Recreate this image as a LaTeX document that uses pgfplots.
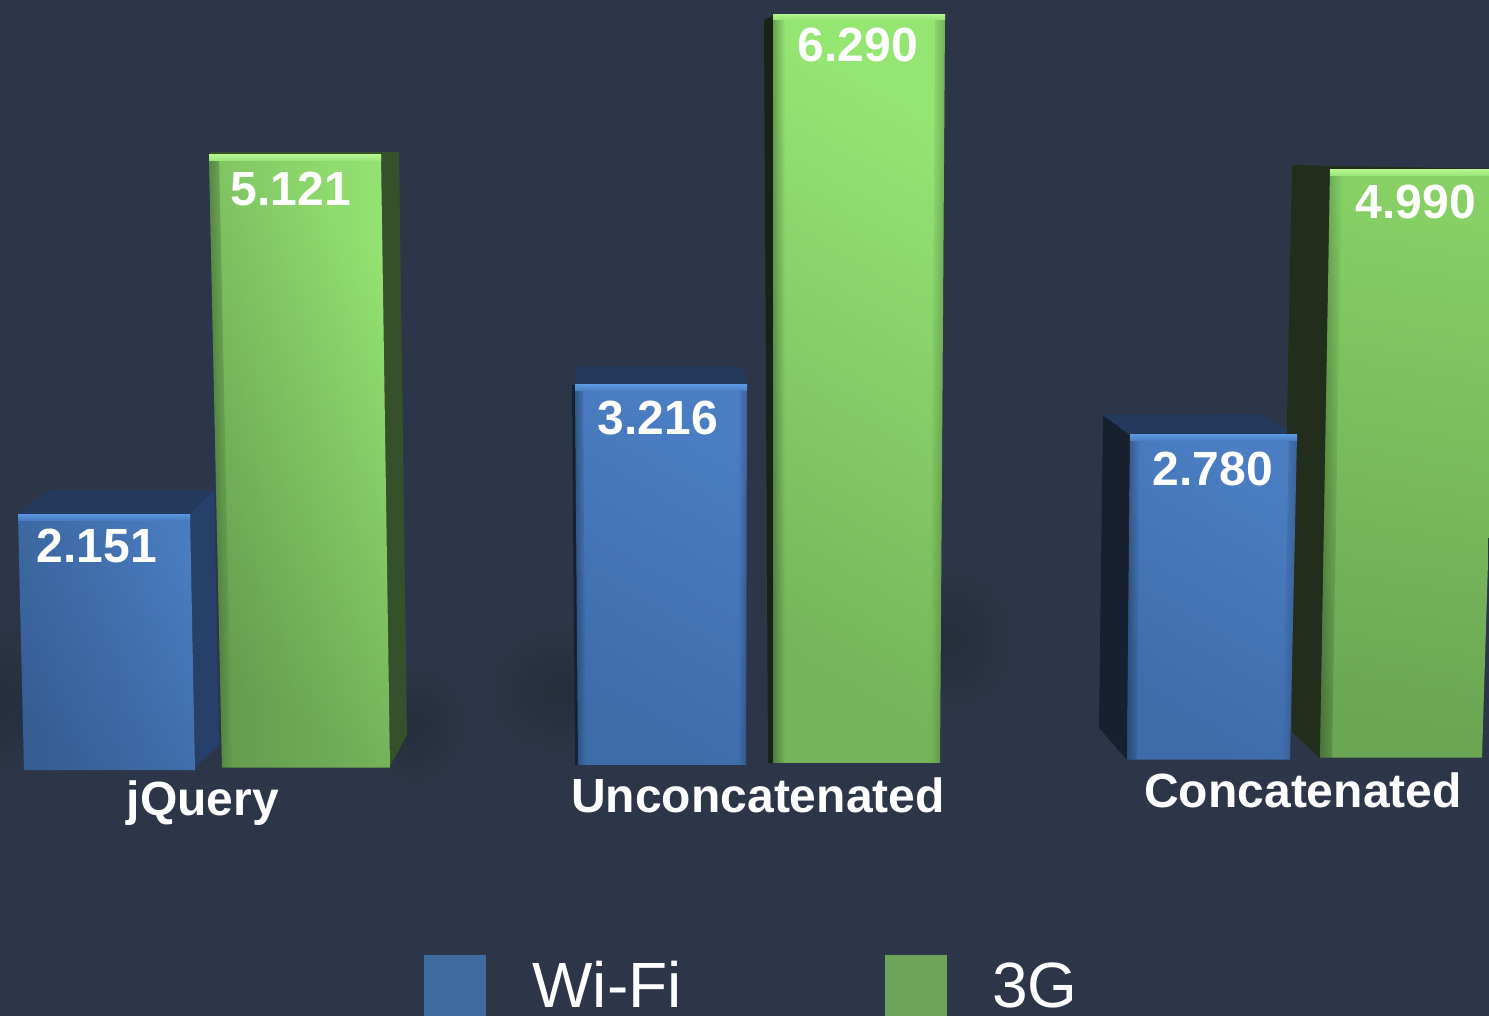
\documentclass[border=0pt]{standalone}
\usepackage{fontspec}
\setmainfont{Liberation Sans}
\usepackage{pgfplots}
\usetikzlibrary{fadings}
\pgfplotsset{compat=1.18}
\definecolor{bg}{HTML}{2D3648}
\definecolor{shadowc}{HTML}{262D3B}
\definecolor{topb}{HTML}{233A5C}
\definecolor{sideb}{HTML}{27406A}
\definecolor{leftb}{HTML}{16202E}
\definecolor{sideg}{HTML}{35512A}
\definecolor{leftg}{HTML}{222E1B}
\definecolor{legb}{HTML}{3E6C9F}
\definecolor{legg}{HTML}{6EA45A}
\definecolor{blueT}{HTML}{4A7DC2}
\definecolor{blueB}{HTML}{3E6CA9}
\definecolor{blueH}{HTML}{5A97DE}
\definecolor{greenT}{HTML}{95E573}
\definecolor{greenM}{HTML}{86D065}
\definecolor{greenB}{HTML}{74B45B}
\definecolor{greenH}{HTML}{B4F48E}
\pgfplotsset{
  base/.style={scale only axis,width=744.5pt,height=508pt,axis line style={draw=none},
    tick style={draw=none},ytick=\empty,xmin=0,xmax=1489},
  blue front/.style={draw=none,top color=blueT,bottom color=blueB,shading angle=-30},
  green front/.style={draw=none,top color=greenT,bottom color=greenB,shading angle=-30},
  green front low/.style={draw=none,top color=greenM,bottom color=greenB!92!black,shading angle=-10},
  blue hi/.style={draw=none,top color=blueH,bottom color=blueT},
  green hi/.style={draw=none,top color=greenH,bottom color=greenT},
  dim left/.style={draw=none,fill=black,fill opacity=.14,path fading=east},
  edge l/.style={draw=none,fill=black,fill opacity=.30,path fading=east},
  edge r/.style={draw=none,fill=black,fill opacity=.22,path fading=west},
  val/.style={draw=none,mark=none,nodes near coords,point meta=explicit symbolic,
    nodes near coords style={anchor=center,text=white,font=\fontsize{24}{24}\selectfont\bfseries,yshift=#1}},
  glow/.style={draw=none,inner color=shadowc,outer color=bg},
}
\begin{document}
\begin{tikzpicture}
% Background, ground shadows, side and top faces, legend swatches (pixel axis)
\begin{axis}[base,xtick=\empty,ymin=0,ymax=1016,y dir=reverse,axis background/.style={fill=bg}]
\addplot[glow] coordinates {(-70,620)(70,620)(70,780)(-70,780)} -- cycle;
\addplot[glow] coordinates {(480,620)(640,620)(640,760)(480,760)} -- cycle;
\addplot[glow] coordinates {(880,560)(1020,560)(1020,720)(880,720)} -- cycle;
\addplot[glow] coordinates {(360,660)(470,660)(470,790)(360,790)} -- cycle;
% jQuery Wi-Fi
\addplot[draw=none,fill=topb] coordinates {(18,514)(50,490)(214,490)(190,514)} -- cycle;
\addplot[draw=none,fill=sideb] coordinates {(190,514)(214,490)(219,745)(195,767)} -- cycle;
% jQuery 3G
\addplot[draw=none,fill=sideg] coordinates {(209,155)(211,152)(399,152)(407,735)(390,766)(380,155)} -- cycle;
% Unconcatenated Wi-Fi
\addplot[draw=none,fill=topb] coordinates {(574,385)(578,367)(743,367)(748,385)} -- cycle;
\addplot[draw=none,fill=leftb] coordinates {(572,385)(578,385)(580,765)(575,765)} -- cycle;
% Unconcatenated 3G
\addplot[draw=none,fill=leftg!75!black] coordinates {(764,20)(775,15)(775,763)(768,763)} -- cycle;
% Concatenated Wi-Fi
\addplot[draw=none,fill=leftb] coordinates {(1103,415)(1130,435)(1127,760)(1099,728)} -- cycle;
\addplot[draw=none,fill=topb] coordinates {(1103,415)(1260,414)(1297,435)(1130,435)} -- cycle;
% Concatenated 3G
\addplot[draw=none,fill=leftg] coordinates {(1292,165)(1500,169)(1500,175)(1330,170)(1320,758)(1292,732)(1287,420)} -- cycle;
% Legend
\addplot[draw=none,fill=legb] coordinates {(424,955)(486,955)(486,1016)(424,1016)} -- cycle;
\addplot[draw=none,fill=legg] coordinates {(885,955)(947,955)(947,1016)(885,1016)} -- cycle;
\node[anchor=base west,inner sep=0pt,text=white,font=\fontsize{32}{32}\selectfont] at (axis cs:532,1007) {Wi-Fi};
\node[anchor=base west,inner sep=0pt,text=white,font=\fontsize{32}{32}\selectfont] at (axis cs:992,1007) {3G};
\end{axis}
% Bars: y is the plotted value
\begin{axis}[base,ymin=-2.1181,ymax=6.4557,
  xtick={203,758,1303},
  xticklabels={\raisebox{-1.5pt}{jQuery},Unconcatenated,\raisebox{2.5pt}{Concatenated}},
  xticklabel style={anchor=base,text=white,font=\fontsize{24}{24}\selectfont\bfseries,yshift=101.5pt}]
% front faces
\addplot[blue front,yshift=-1.95pt] coordinates {(24,-0.01)(195,-0.01)(190,2.151)(18,2.151)} -- cycle;
\addplot[green front,yshift=1.6pt] coordinates {(222,-0.05)(390,-0.05)(381,5.121)(209,5.121)} -- cycle;
\addplot[blue front,yshift=-0.5pt] coordinates {(578,0.01)(746,0.01)(747,3.216)(575,3.216)} -- cycle;
\addplot[green front,yshift=2.8pt] coordinates {(773,-0.03)(940,-0.03)(945,6.29)(773,6.29)} -- cycle;
\addplot[blue front,yshift=0.3pt] coordinates {(1127,0.04)(1290,0.04)(1297,2.78)(1130,2.78)} -- cycle;
\addplot[green front low,yshift=1.85pt] coordinates {(1320,0.03)(1482,0.03)(1500,4.99)(1330,4.99)} -- cycle;
% broad darkening on the left of the jQuery bars
\addplot[dim left,yshift=-1.95pt] coordinates {(24,-0.01)(195,-0.01)(190,2.151)(18,2.151)} -- cycle;
\addplot[dim left,yshift=1.6pt] coordinates {(222,-0.05)(390,-0.05)(381,5.121)(209,5.121)} -- cycle;
% bevelled edges
\addplot[edge l,yshift=1.6pt] coordinates {(222,-0.05)(232,-0.05)(219,5.121)(209,5.121)} -- cycle;
\addplot[edge l,yshift=2.8pt] coordinates {(773,-0.03)(785,-0.03)(785,6.29)(773,6.29)} -- cycle;
\addplot[edge r,yshift=2.8pt] coordinates {(930,-0.03)(940,-0.03)(945,6.29)(935,6.29)} -- cycle;
\addplot[edge l,yshift=-0.5pt] coordinates {(578,0.01)(586,0.01)(583,3.216)(575,3.216)} -- cycle;
\addplot[edge r,yshift=-0.5pt] coordinates {(738,0.01)(746,0.01)(747,3.216)(739,3.216)} -- cycle;
\addplot[edge r,yshift=0.3pt] coordinates {(1282,0.04)(1290,0.04)(1297,2.78)(1289,2.78)} -- cycle;
\addplot[edge l,yshift=0.3pt] coordinates {(1127,0.04)(1137,0.04)(1140,2.78)(1130,2.78)} -- cycle;
\addplot[edge l,yshift=1.85pt] coordinates {(1320,0.03)(1332,0.03)(1342,4.99)(1330,4.99)} -- cycle;
% highlights along the top edges
\addplot[blue hi,yshift=-1.95pt] coordinates {(18,2.151)(190,2.151)(190,2.10)(18,2.10)} -- cycle;
\addplot[green hi,yshift=1.6pt] coordinates {(209,5.121)(381,5.121)(381,5.07)(209,5.07)} -- cycle;
\addplot[blue hi,yshift=-0.5pt] coordinates {(575,3.216)(747,3.216)(747,3.165)(575,3.165)} -- cycle;
\addplot[green hi,yshift=2.8pt] coordinates {(773,6.29)(945,6.29)(945,6.24)(773,6.24)} -- cycle;
\addplot[blue hi,yshift=0.3pt] coordinates {(1130,2.78)(1297,2.78)(1297,2.73)(1130,2.73)} -- cycle;
\addplot[green hi,yshift=1.85pt] coordinates {(1330,4.99)(1500,4.99)(1500,4.94)(1330,4.94)} -- cycle;
% value labels
\addplot[val=-17.95pt] coordinates {(97,2.151)[2.151]};
\addplot[val=-15.4pt] coordinates {(291,5.121)[5.121]};
\addplot[val=-17.05pt] coordinates {(658,3.216)[3.216]};
\addplot[val=-12.7pt] coordinates {(858,6.29)[6.290]};
\addplot[val=-16.7pt] coordinates {(1213,2.78)[2.780]};
\addplot[val=-14.15pt] coordinates {(1416,4.99)[4.990]};
\end{axis}
\end{tikzpicture}
\end{document}
